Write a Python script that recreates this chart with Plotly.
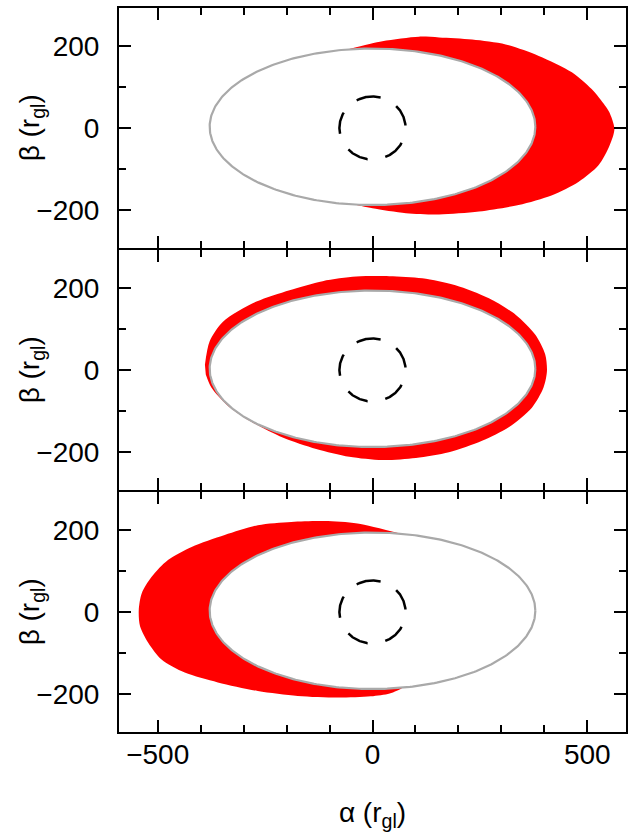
import numpy as np
import plotly.graph_objects as go
from plotly.subplots import make_subplots

# ---------------- data (units of r_gl) ----------------
X_RANGE = [-590, 590]
Y_RANGE = [-293, 293]
X_TICK_STEP = 500
Y_TICK_STEP = 200
MINOR_STEP = 100

ORBIT_A = 379          # semi-axis of grey orbit ellipse along alpha
ORBIT_B = 191          # semi-axis along beta
ORBIT_CENTER_BETA = 3
SHADOW_RADIUS = 77     # dashed circle

# panel 1: red crescent on the right (outer edge, top tip -> bottom tip)
p1_alpha = [-54, 23, 108, 155, 232, 310, 387, 464, 510, 541, 551, 563, 552, 526, 480, 418, 340, 248, 155, 78, 0, -42]
p1_beta = [193, 212, 223, 221, 216, 204, 176, 136, 95, 55, 39, -2, -42, -91, -131, -164, -188, -204, -211, -208, -196, -187]

# panel 2: red ring (closed outer edge, clockwise)
p2_alpha = [-390, -379, -348, -270, -193, -116, -38, 39, 116, 193, 271, 333, 379, 402, 406, 398, 371, 317, 255, 178, 101, 23, -54, -131, -209, -286, -340, -375, -388]
p2_beta = [13, 70, 118, 167, 195, 217, 228, 229, 224, 207, 175, 135, 86, 38, -3, -43, -92, -140, -173, -201, -215, -220, -212, -193, -165, -124, -84, -43, -11]

# panel 3: red crescent on the left (outer edge, top tip -> bottom tip)
p3_alpha = [66, -35, -112, -189, -267, -344, -421, -476, -514, -537, -544, -541, -522, -491, -437, -360, -267, -174, -81, -4, 40, 68]
p3_beta = [191, 216, 222, 220, 212, 188, 159, 127, 86, 46, 5, -35, -75, -116, -148, -172, -193, -205, -209, -206, -199, -186]

RED = "#ff0000"
GREY = "#a9a9a9"
FONT = "Liberation Sans, Arial, sans-serif"

# panel layout: three equal panels; a 2 px gap makes neighbouring border lines coincide
PLOT_H_PX = 724
GAP = 2 / PLOT_H_PX
PANEL_H = (1 - 2 * GAP) / 3
DOMAINS = {3: [0, PANEL_H],
           2: [PANEL_H + GAP, 2 * PANEL_H + GAP],
           1: [2 * PANEL_H + 2 * GAP, 1]}


def ellipse_pts(t0_deg, t1_deg, n=240):
    t = np.radians(np.linspace(t0_deg, t1_deg, n))
    return ORBIT_A * np.cos(t), ORBIT_CENTER_BETA + ORBIT_B * np.sin(t)


def tip_angle(alpha):
    return np.degrees(np.arccos(np.clip(alpha / ORBIT_A, -1, 1)))


def filled(xs, ys, color, row, spline=True):
    fig.add_trace(go.Scatter(x=list(xs), y=list(ys),
                             fill="toself", fillcolor=color, mode="lines",
                             line=dict(width=0, color=color,
                                       shape="spline" if spline else "linear", smoothing=0.8),
                             hoverinfo="skip", showlegend=False), row=row, col=1)


fig = make_subplots(rows=3, cols=1, shared_xaxes=True, vertical_spacing=0)

# Panel 1 crescent: outer edge then orbit arc back along the right side
ex, ey = ellipse_pts(-tip_angle(p1_alpha[-1]), tip_angle(p1_alpha[0]))
filled(list(p1_alpha) + list(ex), list(p1_beta) + list(ey), RED, 1)

# Panel 2 ring: red outer loop, orbit interior white
filled(p2_alpha, p2_beta, RED, 2)
ix, iy = ellipse_pts(0, 360, 400)
filled(ix, iy, "white", 2, spline=False)

# Panel 3 crescent: outer edge then orbit arc back along the left side
ex, ey = ellipse_pts(-tip_angle(p3_alpha[-1]), -360 + tip_angle(p3_alpha[0]))
filled(list(p3_alpha) + list(ex), list(p3_beta) + list(ey), RED, 3)

# grey orbit ellipse and dashed circle in every panel
ox, oy = ellipse_pts(0, 360, 400)
ct = np.radians(np.linspace(114, 114 - 360, 400))
cx = SHADOW_RADIUS * np.cos(ct)
cy = SHADOW_RADIUS * np.sin(ct)
for r in (1, 2, 3):
    fig.add_trace(go.Scatter(x=ox, y=oy, mode="lines", line=dict(color=GREY, width=2.2),
                             hoverinfo="skip", showlegend=False), row=r, col=1)
    fig.add_trace(go.Scatter(x=cx, y=cy, mode="lines",
                             line=dict(color="black", width=2.5, dash="22px,18px"),
                             hoverinfo="skip", showlegend=False), row=r, col=1)

axis_common = dict(showline=True, linecolor="black", linewidth=2, mirror="allticks",
                   ticks="inside", ticklen=12, tickwidth=2, tickcolor="black",
                   showgrid=False, zeroline=False, tickmode="linear", tick0=0,
                   tickfont=dict(family=FONT, size=28, color="black"),
                   minor=dict(ticks="inside", ticklen=7, tickwidth=2, tickcolor="black",
                              dtick=MINOR_STEP, tick0=0, showgrid=False))

for r in (1, 2, 3):
    fig.update_xaxes(range=X_RANGE, dtick=X_TICK_STEP, ticklabelstandoff=-4,
                     showticklabels=(r == 3), **axis_common, row=r, col=1)
    fig.update_yaxes(range=Y_RANGE, dtick=Y_TICK_STEP, ticklabelstandoff=12,
                     domain=DOMAINS[r], **axis_common, row=r, col=1)

fig.update_xaxes(title=dict(text="\u03b1 (r<sub>gl</sub>)", font=dict(family=FONT, size=28, color="black"),
                            standoff=34), row=3, col=1)

# y-axis titles centred on each panel
for r, yd in ((1, "y domain"), (2, "y2 domain"), (3, "y3 domain")):
    fig.add_annotation(text="\u03b2 (r<sub>gl</sub>)", xref="x domain", yref=yd,
                       x=(31 - 119) / 509, y=0.5, xanchor="center", yanchor="middle",
                       textangle=-90, showarrow=False,
                       font=dict(family=FONT, size=28, color="black"))

fig.update_layout(width=631, height=837, margin=dict(l=119, r=3, t=8, b=105),
                  paper_bgcolor="white", plot_bgcolor="white", showlegend=False)

fig.write_html("out.html")
